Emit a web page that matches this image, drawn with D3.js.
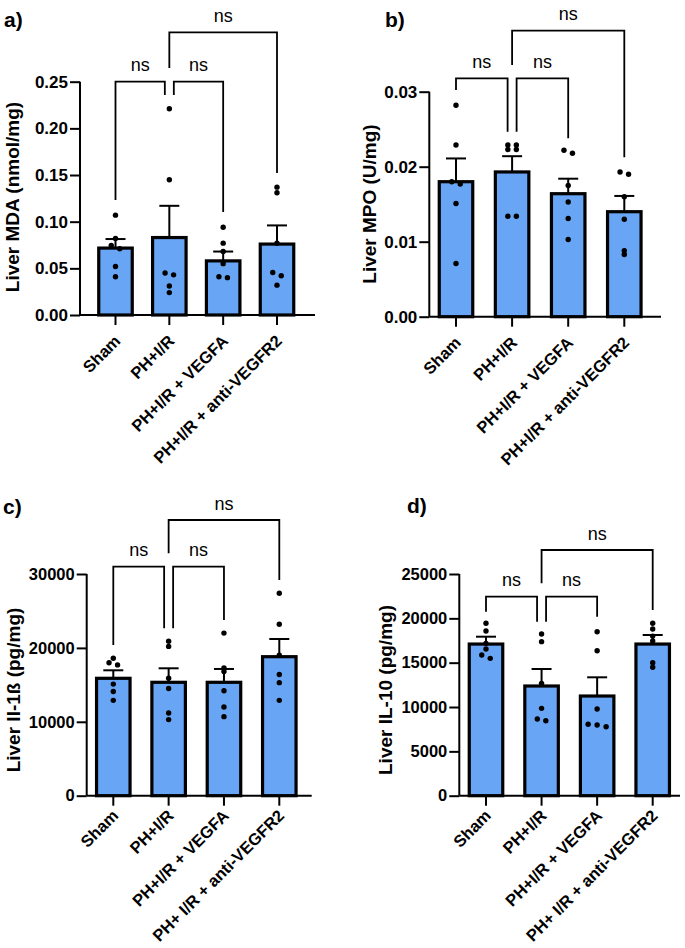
<!DOCTYPE html>
<html><head><meta charset="utf-8">
<script src="https://cdn.jsdelivr.net/npm/d3@7"></script>
<style>body{margin:0;background:#fff}svg{display:block}</style>
</head><body><svg id="chart" width="685" height="948"></svg>
<script>
// ---------- DATA ----------
const categoriesTop = ["Sham", "PH+I/R", "PH+I/R + VEGFA", "PH+I/R + anti-VEGFR2"];
const categoriesBottom = ["Sham", "PH+I/R", "PH+I/R + VEGFA", "PH+ I/R + anti-VEGFR2"];

const mdaMean = [0.0717, 0.083, 0.058, 0.076];
const mdaSem = [0.0097, 0.034, 0.010, 0.020];
const mdaPoints = [
  [0.107, 0.082, 0.0745, 0.071, 0.052, 0.041],
  [0.221, 0.145, 0.045, 0.043, 0.031, 0.024],
  [0.094, 0.077, 0.068, 0.055, 0.041, 0.040],
  [0.137, 0.131, 0.077, 0.0455, 0.042, 0.032]
];
const mdaTicks = [0, 0.05, 0.10, 0.15, 0.20, 0.25];

const mpoMean = [0.0180, 0.0193, 0.0164, 0.0140];
const mpoSem = [0.0031, 0.0021, 0.0020, 0.0021];
const mpoPoints = [
  [0.0282, 0.0229, 0.0180, 0.0177, 0.0151, 0.0071],
  [0.0229, 0.0229, 0.0223, 0.0223, 0.0134, 0.0134],
  [0.0222, 0.0218, 0.0175, 0.0153, 0.0131, 0.0103],
  [0.0193, 0.0190, 0.0160, 0.0130, 0.0088, 0.0083]
];
const mpoTicks = [0, 0.01, 0.02, 0.03];

const il1bMean = [15886, 15345, 15345, 18810];
const il1bSem = [1083, 1895, 1805, 2394];
const il1bPoints = [
  [18600, 18000, 17700, 15100, 14100, 12900],
  [20900, 20200, 15900, 14500, 11200, 10300],
  [22000, 17300, 16800, 14200, 12000, 10700],
  [27400, 23200, 19000, 16400, 15300, 12900]
];
const il1bTicks = [0, 10000, 20000, 30000];

const il10Mean = [17100, 12370, 11240, 17100];
const il10Sem = [830, 1920, 2110, 1020];
const il10Points = [
  [19440, 18570, 17180, 16540, 15870, 15490],
  [18230, 17370, 12670, 9850, 8650, 8460],
  [18490, 16350, 9780, 8050, 7970, 7780],
  [19440, 18800, 18000, 17440, 15000, 14480]
];
const il10Ticks = [0, 5000, 10000, 15000, 20000, 25000];

const comparisons = [[0, 1, "ns"], [1, 2, "ns"], [1, 3, "ns"]];

// ---------- LAYOUT ----------
const panels = [
  {tag: "a)", tagX: 4, tagY: 27, title: "Liver MDA (nmol/mg)", titleX: 18.5, titleY: 197,
   cats: categoriesTop, mean: mdaMean, sem: mdaSem, pts: mdaPoints, ticks: mdaTicks, fmt: d3.format(".2f"),
   axisX: 80, axisEnd: 315, y0: 315, y1: 81.7, c1: 115.5, c4: 277, tickFont: 17, labDy: 27,
   brackets: [{top: 81.7, l: 200, r: 95}, {top: 81.7, l: 95, r: 212}, {top: 32.3, l: 68, r: 173}]},
  {tag: "b)", tagX: 385, tagY: 27, title: "Liver MPO (U/mg)", titleX: 376, titleY: 204,
   cats: categoriesTop, mean: mpoMean, sem: mpoSem, pts: mpoPoints, ticks: mpoTicks, fmt: d3.format(".2f"),
   axisX: 429.3, axisEnd: 661, y0: 316.7, y1: 91.7, c1: 456, c4: 624.3, tickFont: 17, labDy: 27,
   brackets: [{top: 78.3, l: 90, r: 131.7}, {top: 78.3, l: 131.7, r: 138.3}, {top: 30.7, l: 65, r: 157.3}]},
  {tag: "c)", tagX: 3, tagY: 514, title: "Liver Il-1ß (pg/mg)", titleX: 19.5, titleY: 690,
   cats: categoriesBottom, mean: il1bMean, sem: il1bSem, pts: il1bPoints, ticks: il1bTicks, fmt: d3.format("d"),
   axisX: 86.7, axisEnd: 311.7, y0: 795.7, y1: 574, c1: 113.3, c4: 279.3, tickFont: 16.5, labDy: 21,
   brackets: [{top: 566.7, l: 645, r: 628.3}, {top: 566.7, l: 628.3, r: 620}, {top: 520, l: 553.3, r: 580}]},
  {tag: "d)", tagX: 407, tagY: 513, title: "Liver IL-10 (pg/mg)", titleX: 392, titleY: 690,
   cats: categoriesBottom, mean: il10Mean, sem: il10Sem, pts: il10Points, ticks: il10Ticks, fmt: d3.format("d"),
   axisX: 459.3, axisEnd: 680, y0: 795.7, y1: 574, c1: 486, c4: 652.7, tickFont: 16.5, labDy: 21,
   brackets: [{top: 596.7, l: 611.7, r: 621.7}, {top: 596.7, l: 621.7, r: 616.7}, {top: 550, l: 583.3, r: 610}]}
];

const FONT = "'Liberation Sans', Arial, Helvetica, sans-serif";
const BAR_FILL = "#69a5f5";
const svg = d3.select("#chart");

panels.forEach(p => {
  const g = svg.append("g");
  const x = d3.scalePoint().domain(p.cats).range([p.c1, p.c4]);
  const y = d3.scaleLinear().domain([0, p.ticks[p.ticks.length - 1]]).range([p.y0, p.y1]);
  const barW = 33.5;

  // bars
  g.selectAll("rect.bar").data(p.cats).join("rect")
    .attr("x", d => x(d) - barW / 2)
    .attr("y", (d, i) => y(p.mean[i]))
    .attr("width", barW)
    .attr("height", (d, i) => y(0) - y(p.mean[i]))
    .attr("fill", BAR_FILL).attr("stroke", "#000").attr("stroke-width", 3.2);

  // error bars (upper SEM)
  p.cats.forEach((c, i) => {
    const cx = x(c), yt = y(p.mean[i] + p.sem[i]), yb = y(p.mean[i]);
    g.append("line").attr("x1", cx).attr("x2", cx).attr("y1", yb).attr("y2", yt)
      .attr("stroke", "#000").attr("stroke-width", 2);
    g.append("line").attr("x1", cx - 10).attr("x2", cx + 10).attr("y1", yt).attr("y2", yt)
      .attr("stroke", "#000").attr("stroke-width", 2);
  });

  // points with simple row-based swarm
  p.cats.forEach((c, i) => {
    const cx = x(c);
    const ys = p.pts[i].map(v => y(v)).sort((a, b) => a - b);
    const rows = [];
    ys.forEach(py => {
      const last = rows[rows.length - 1];
      if (last && py - last[0] <= 3.5) last.push(py); else rows.push([py]);
    });
    rows.forEach(row => {
      const k = row.length;
      row.forEach((py, j) => {
        const off = (j - (k - 1) / 2) * (k > 2 ? 9 : 8.5);
        g.append("circle").attr("cx", cx + off).attr("cy", py).attr("r", 2.7).attr("fill", "#000");
      });
    });
  });

  // y axis
  const yAxis = d3.axisLeft(y).tickValues(p.ticks).tickFormat(p.fmt).tickSize(10).tickPadding(2);
  const ya = g.append("g").attr("transform", `translate(${p.axisX},0)`).call(yAxis);
  ya.select(".domain").attr("d", `M0,${p.y0}V${p.y1}`).attr("stroke-width", 2);
  ya.selectAll(".tick line").attr("stroke-width", 2);
  ya.selectAll("text").attr("font-family", FONT).attr("font-weight", "bold")
    .attr("font-size", p.tickFont).attr("fill", "#000");

  // x axis line + ticks
  g.append("line").attr("x1", p.axisX).attr("x2", p.axisEnd).attr("y1", p.y0).attr("y2", p.y0)
    .attr("stroke", "#000").attr("stroke-width", 2);
  g.selectAll("line.xt").data(p.cats).join("line")
    .attr("x1", d => x(d)).attr("x2", d => x(d)).attr("y1", p.y0).attr("y2", p.y0 + 10)
    .attr("stroke", "#000").attr("stroke-width", 2);
  g.selectAll("text.xl").data(p.cats).join("text")
    .attr("transform", d => `translate(${x(d) + 6},${p.y0 + p.labDy}) rotate(-45)`)
    .attr("text-anchor", "end")
    .attr("font-family", FONT).attr("font-weight", "bold").attr("font-size", 16.5)
    .text(d => d);

  // y title
  g.append("text")
    .attr("transform", `translate(${p.titleX},${p.titleY}) rotate(-90)`)
    .attr("text-anchor", "middle")
    .attr("font-family", FONT).attr("font-weight", "bold").attr("font-size", 19)
    .text(p.title);

  // panel tag
  g.append("text").attr("x", p.tagX).attr("y", p.tagY)
    .attr("font-family", FONT).attr("font-weight", "bold").attr("font-size", 21)
    .text(p.tag);

  // significance brackets
  comparisons.forEach((cmp, k) => {
    const b = p.brackets[k];
    let xl = x(p.cats[cmp[0]]), xr = x(p.cats[cmp[1]]);
    if (k === 0) xr -= 4.5;
    if (k === 1) xl += 4.5;
    g.append("path")
      .attr("d", `M${xl},${b.l}V${b.top}H${xr}V${b.r}`)
      .attr("fill", "none").attr("stroke", "#000").attr("stroke-width", 1.8);
    g.append("text").attr("x", (xl + xr) / 2).attr("y", b.top - 10.5)
      .attr("text-anchor", "middle")
      .attr("font-family", FONT).attr("font-size", 18)
      .text(cmp[2]);
  });
});
</script>
</body></html>
